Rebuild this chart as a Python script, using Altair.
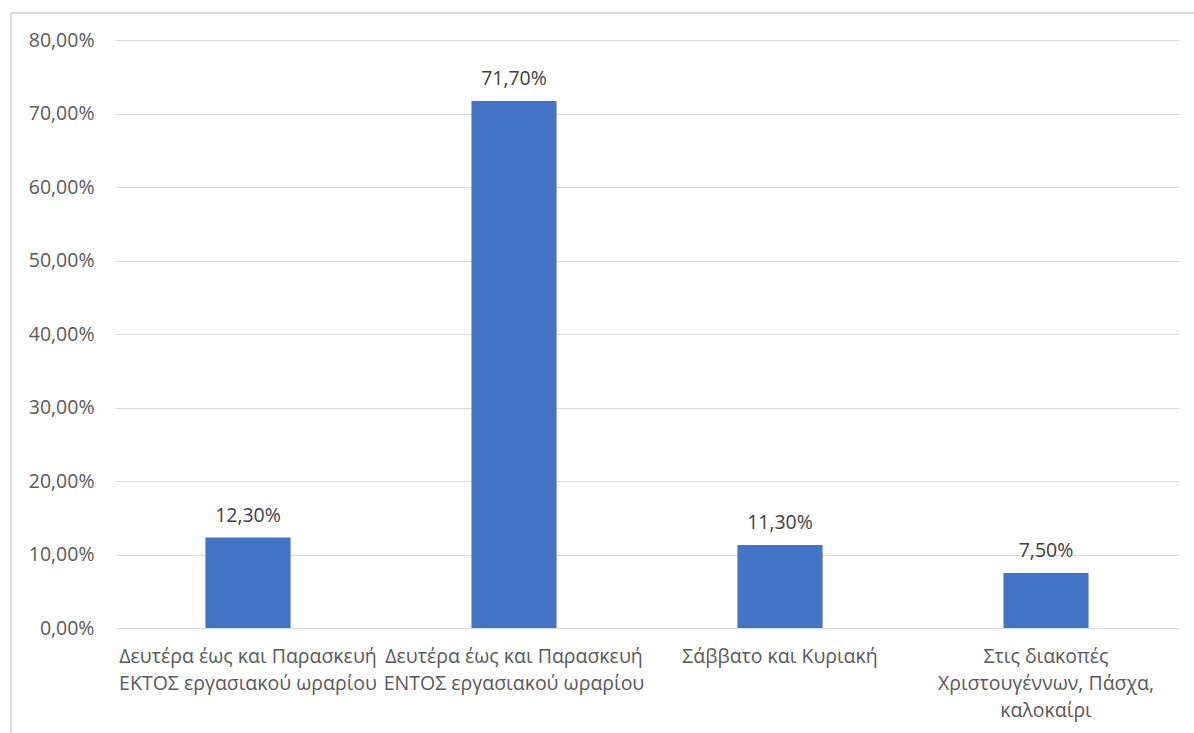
import altair as alt
import pandas as pd

# Survey answers: when the service is used
categories = [
    "Δευτέρα έως και Παρασκευή\nΕΚΤΟΣ εργασιακού ωραρίου",
    "Δευτέρα έως και Παρασκευή\nΕΝΤΟΣ εργασιακού ωραρίου",
    "Σάββατο και Κυριακή",
    "Στις διακοπές\nΧριστουγέννων, Πάσχα,\nκαλοκαίρι",
]
shares = [0.123, 0.717, 0.113, 0.075]
y_ticks = [0.0, 0.1, 0.2, 0.3, 0.4, 0.5, 0.6, 0.7, 0.8]

df = pd.DataFrame({"cat": categories, "share": shares})
df["label"] = [f"{v * 100:.2f}%".replace(".", ",") for v in shares]

W, H = 1064, 588
FONT = "Open Sans"
GREY = "#595959"
FS = 19.5

x_enc = alt.X(
    "cat:N",
    sort=categories,
    title=None,
    scale=alt.Scale(paddingInner=0.68, paddingOuter=0.34),
    axis=alt.Axis(
        labelExpr="split(datum.label, '\\n')",
        labelAngle=0,
        labelLimit=0,
        labelFontSize=FS,
        labelColor=GREY,
        labelFont=FONT,
        labelLineHeight=27,
        labelPadding=19,
        ticks=False,
        domain=True,
        domainColor="#d9d9d9",
        domainWidth=1,
        grid=False,
    ),
)
y_enc = alt.Y(
    "share:Q",
    title=None,
    scale=alt.Scale(domain=[0, 0.8], nice=False),
    axis=alt.Axis(
        values=y_ticks,
        labelExpr="replace(format(datum.value, '.2%'), '.', ',')",
        labelFontSize=FS,
        labelColor=GREY,
        labelFont=FONT,
        labelPadding=21,
        ticks=False,
        domain=False,
        grid=True,
        gridColor="#d9d9d9",
        gridWidth=1,
    ),
)

bars = alt.Chart(df).mark_bar(color="#4472C4").encode(x=x_enc, y=y_enc)

labels = alt.Chart(df).mark_text(
    baseline="alphabetic", dy=-16, fontSize=FS, font=FONT, color="#404040"
).encode(x=alt.X("cat:N", sort=categories), y="share:Q", text="label:N")

frame = alt.Chart(df).mark_rect(
    fill=None, stroke="#d9d9d9", strokeWidth=1.5, clip=False
).encode(
    x=alt.value(-104), x2=alt.value(W + 60),
    y=alt.value(-27), y2=alt.value(H + 200),
)

chart = (
    alt.layer(frame, bars, labels)
    .properties(
        width=W,
        height=H,
        autosize=alt.AutoSizeParams(type="none"),
        padding={"left": 115, "top": 40, "right": 15, "bottom": 105},
        background="white",
    )
    .configure_view(stroke=None)
)

chart.save("out.html", embed_options={"renderer": "svg", "actions": False})
